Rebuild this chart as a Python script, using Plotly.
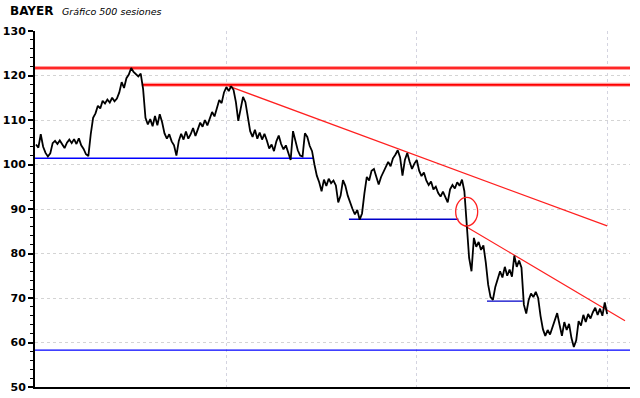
import plotly.graph_objects as go

# ---- price series (session index, close) ----
sessions = list(range(0, 482, 2))
prices = [
    104.5, 103.8, 106.8, 104.0, 102.6,
    101.8, 102.5, 104.8, 105.3, 104.6,
    105.4, 104.6, 103.7, 104.9, 105.6,
    104.8, 105.7, 104.6, 105.9, 104.3,
    103.5, 102.3, 101.9, 106.8, 110.5,
    111.5, 113.2, 112.6, 114.3, 113.7,
    114.6, 113.9, 115.0, 114.2, 114.8,
    116.2, 118.5, 117.2, 119.4, 120.2,
    121.7, 120.8, 120.3, 119.8, 120.4,
    117.0, 110.5, 109.0, 110.2, 108.6,
    110.9, 108.8, 111.3, 109.5, 107.0,
    105.8, 106.8, 105.2, 104.3, 102.0,
    105.3, 106.9, 105.6, 107.4, 105.8,
    106.8, 108.2, 106.4, 107.9, 109.4,
    108.5, 110.0, 108.8, 110.5, 111.8,
    110.8, 113.0, 114.5, 113.8, 116.2,
    117.4, 116.5, 117.6, 116.8, 114.0,
    109.8, 112.5, 115.2, 114.0, 110.5,
    107.5, 106.2, 107.8, 105.8, 107.2,
    105.6, 106.9, 105.4, 103.6, 104.5,
    103.0, 105.2, 106.5, 104.6, 103.4,
    104.3, 102.4, 101.0, 107.5, 105.0,
    103.2, 102.0, 101.8, 107.0, 106.2,
    104.2, 103.0, 100.0, 97.5, 96.0,
    94.0, 96.6, 95.2, 96.8, 95.8,
    96.4, 95.3, 91.5, 93.0, 96.5,
    95.2, 93.0, 91.4, 90.0, 88.8,
    89.8, 87.6, 89.0, 93.5, 97.2,
    96.4, 98.6, 99.0, 97.4, 95.5,
    97.2, 98.4, 99.8, 100.6, 99.6,
    101.4, 102.2, 103.2, 101.6, 97.5,
    101.0, 102.6, 100.6, 99.0, 100.2,
    101.0, 98.6, 97.4, 98.2, 96.4,
    95.4, 96.2, 94.4, 95.0, 93.6,
    92.8, 93.9, 92.5, 91.5, 94.4,
    95.4, 94.6, 96.0, 95.2, 96.6,
    94.0, 86.0, 79.0, 76.0, 83.5,
    81.5, 82.6, 80.8, 81.8, 78.0,
    73.0, 70.2, 69.6, 72.5, 74.0,
    76.0, 74.6, 77.0, 75.0, 76.4,
    74.8, 79.5, 77.0, 78.4, 76.8,
    68.5, 66.5, 69.5, 71.0, 70.2,
    71.4, 70.0, 66.0, 63.0, 61.5,
    62.8, 61.8, 63.4, 65.0, 66.6,
    64.0, 61.5, 64.6, 62.8, 64.2,
    61.0, 59.0, 60.5, 64.8, 63.8,
    66.2, 64.6, 66.4, 65.4, 66.8,
    67.8, 66.2, 67.6, 66.0, 69.0,
    66.4,
]

# ---- drawn levels / trendlines ----
resistance_levels = [121.7, 117.9]          # thick red
resistance_starts = [-1, 89]
support_levels_blue = [101.4, 58.3]         # blue
support_blue_x = [[-1, 233], [-1, 500]]
short_levels = [87.7, 69.3]                 # short dark blue
short_x = [[263, 355], [379, 409]]
trend1_x = [162, 480]
trend1_y = [117.6, 86.2]
trend2_x = [360.5, 495]
trend2_y = [86.2, 64.9]
ellipse_x = [352.7, 371.2]
ellipse_y = [86.2, 92.6]

y_ticks = [50, 60, 70, 80, 90, 100, 110, 120, 130]
x_grid = [160.5, 320, 480]

fig = go.Figure()

for lvl, x0 in zip(resistance_levels, resistance_starts):
    fig.add_trace(go.Scatter(x=[x0, 500], y=[lvl, lvl], mode="lines",
                             line=dict(color="#ff9a9a", width=4), hoverinfo="skip"))
    fig.add_trace(go.Scatter(x=[x0, 500], y=[lvl, lvl], mode="lines",
                             line=dict(color="#ff0000", width=1.6), hoverinfo="skip"))

for lvl, xs in zip(support_levels_blue, support_blue_x):
    fig.add_trace(go.Scatter(x=xs, y=[lvl, lvl], mode="lines",
                             line=dict(color="#0000ff", width=1.3), hoverinfo="skip"))

for lvl, xs in zip(short_levels, short_x):
    fig.add_trace(go.Scatter(x=xs, y=[lvl, lvl], mode="lines",
                             line=dict(color="#0000c8", width=1.3), hoverinfo="skip"))

fig.add_trace(go.Scatter(x=trend1_x, y=trend1_y, mode="lines",
                         line=dict(color="#ff2020", width=1.2), hoverinfo="skip"))
fig.add_trace(go.Scatter(x=trend2_x, y=trend2_y, mode="lines",
                         line=dict(color="#ff2020", width=1.2), hoverinfo="skip"))

fig.add_trace(go.Scatter(x=sessions, y=prices, mode="lines",
                         line=dict(color="black", width=1.8)))

fig.add_shape(type="circle", xref="x", yref="y",
              x0=ellipse_x[0], x1=ellipse_x[1], y0=ellipse_y[0], y1=ellipse_y[1],
              line=dict(color="#ff2020", width=1.3))

fig.add_annotation(xref="paper", yref="paper", x=-0.0454, y=1.056,
                   xanchor="left", yanchor="middle", showarrow=False,
                   text="<b>BAYER</b>",
                   font=dict(family="DejaVu Sans", size=12, color="black"))
fig.add_annotation(xref="paper", yref="paper", x=0.042, y=1.056,
                   xanchor="left", yanchor="middle", showarrow=False,
                   text="<i>Gráfico 500 sesiones</i>",
                   font=dict(family="DejaVu Sans", size=9.5, color="black"))

fig.update_layout(
    width=640, height=398,
    margin=dict(l=35, r=10, t=31, b=11),
    paper_bgcolor="white", plot_bgcolor="white",
    showlegend=False,
    xaxis=dict(range=[-0.84, 499.2], showticklabels=False, ticks="",
               tickvals=x_grid, showgrid=True, gridcolor="#d4d4e0",
               griddash="dot", gridwidth=1, zeroline=False, automargin=False,
               showline=True, linecolor="black", linewidth=2, mirror=False),
    yaxis=dict(range=[50, 130], tickvals=y_ticks, ticks="outside", ticklen=5,
               tickwidth=1.5, tickcolor="black", automargin=False,
               tickfont=dict(family="DejaVu Sans", size=11, color="black", weight="bold"),
               showgrid=True, gridcolor="#d4d4d4", griddash="dot", gridwidth=1,
               zeroline=False, showline=True, linecolor="black", linewidth=2,
               minor=dict(dtick=2, ticks="outside", ticklen=3, tickcolor="black",
                          tickwidth=1, showgrid=False)),
)

fig.write_html("out.html", config={"displayModeBar": False},
               post_script="document.body.style.margin='0';")
